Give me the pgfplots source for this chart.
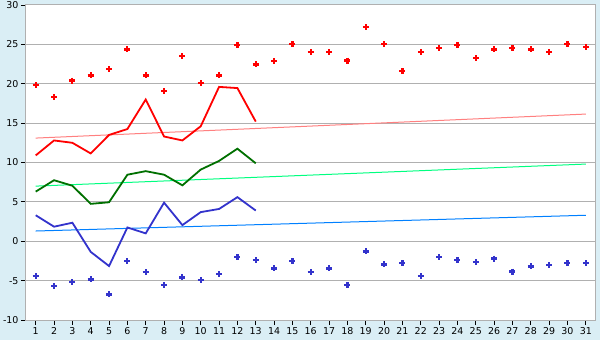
\documentclass[border=0pt]{standalone}
\usepackage{pgfplots}
\pgfplotsset{compat=1.18}
\usepackage{fontspec}
\setmainfont{DejaVu Sans}
\definecolor{bgblue}{RGB}{218,238,245}
\definecolor{gridgray}{RGB}{176,176,176}
\definecolor{tred}{RGB}{255,128,128}
\definecolor{tgreen}{RGB}{0,255,128}
\definecolor{tblue}{RGB}{0,128,255}
\definecolor{dgreen}{RGB}{0,112,0}
\definecolor{lblue}{RGB}{51,51,204}
\begin{document}
\begin{tikzpicture}
\fill[bgblue] (-26bp,-20bp) rectangle (574bp,320bp);
\begin{axis}[
  scale only axis,
  width=569.3bp, height=315bp,
  xmin=0.47, xmax=31.52,
  ymin=-10, ymax=30,
  xtick={1,...,31},
  ytick={-10,-5,...,30},
  axis background/.style={fill=white},
  axis line style={gridgray, line width=1bp},
  ymajorgrids, grid style={gridgray, line width=1bp},
  tick style={black, line width=0.8bp},
  tick align=outside, major tick length=5bp,
  xtick pos=bottom, ytick pos=left,
  tick label style={font=\fontsize{9.5}{11}\selectfont},
  /pgf/number format/assume math mode=true,
  xticklabel style={yshift=1bp},
  yticklabel style={xshift=1bp},
  clip=false,
]
% trend lines
\addplot[tred, line width=1bp] coordinates {(1,13.1) (31,16.15)};
\addplot[tgreen, line width=1bp] coordinates {(1,7.0) (31,9.8)};
\addplot[tblue, line width=1bp] coordinates {(1,1.3) (31,3.3)};
% red line
\addplot[red, line width=1.8bp] coordinates {
(1,10.9) (2,12.8) (3,12.5) (4,11.15) (5,13.5) (6,14.25) (7,18.0) (8,13.3) (9,12.8) (10,14.6) (11,19.6) (12,19.45) (13,15.2)};
% green line
\addplot[dgreen, line width=1.8bp] coordinates {
(1,6.3) (2,7.75) (3,7.05) (4,4.75) (5,4.95) (6,8.45) (7,8.9) (8,8.45) (9,7.1) (10,9.1) (11,10.2) (12,11.75) (13,9.9)};
% blue line
\addplot[lblue, line width=1.8bp] coordinates {
(1,3.3) (2,1.85) (3,2.35) (4,-1.35) (5,-3.15) (6,1.75) (7,1.0) (8,4.9) (9,2.05) (10,3.7) (11,4.1) (12,5.6) (13,3.9)};
% max dots
\addplot[only marks, red, mark=+, mark size=3bp, mark options={line width=2.2bp}] coordinates {
(1,19.8) (2,18.3) (3,20.4) (4,21.05) (5,21.85) (6,24.35) (7,21.05) (8,19.05) (9,23.5) (10,20.05) (11,21.05) (12,24.9) (13,22.45) (14,22.85) (15,25.0)
(16,24.0) (17,24.0) (18,22.95) (19,27.2) (20,25.0) (21,21.6) (22,24.0) (23,24.5) (24,24.9) (25,23.25) (26,24.35) (27,24.5) (28,24.35) (29,24.0) (30,25.0) (31,24.65)};
% min dots
\addplot[only marks, lblue, mark=+, mark size=3bp, mark options={line width=2.2bp}] coordinates {
(1,-4.45) (2,-5.7) (3,-5.2) (4,-4.85) (5,-6.75) (6,-2.55) (7,-3.95) (8,-5.6) (9,-4.6) (10,-4.95) (11,-4.2) (12,-2.05) (13,-2.4) (14,-3.45) (15,-2.55)
(16,-3.95) (17,-3.45) (18,-5.6) (19,-1.3) (20,-2.95) (21,-2.8) (22,-4.45) (23,-2.05) (24,-2.4) (25,-2.65) (26,-2.2) (27,-3.85) (28,-3.2) (29,-3.05) (30,-2.8) (31,-2.8)};
\end{axis}
\pgfresetboundingbox
\useasboundingbox (-26bp,-20bp) rectangle (574bp,320bp);
\end{tikzpicture}
\end{document}
